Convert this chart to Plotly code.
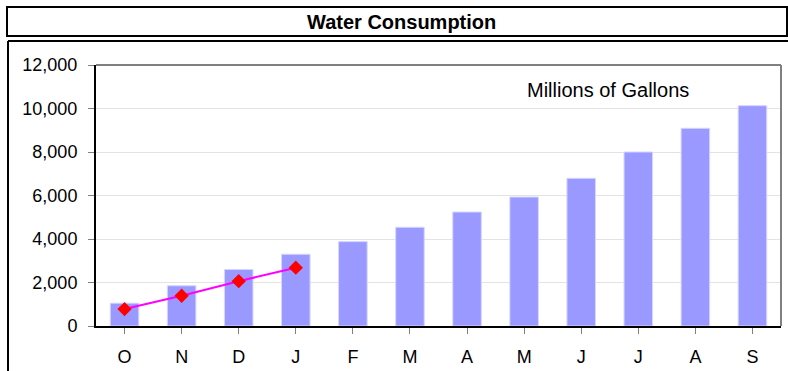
import plotly.graph_objects as go

months = ['O', 'N', 'D', 'J', 'F', 'M', 'A', 'M', 'J', 'J', 'A', 'S']
# projected consumption (bars) and actual to date (line)
projected = [1050, 1850, 2600, 3300, 3880, 4540, 5240, 5930, 6790, 8000, 9090, 10130]
actual = [780, 1390, 2060, 2680]

# months repeat letters, so use positions as x and put letters on the ticks
x_pos = list(range(len(months)))

FONT = 'Liberation Sans, Arial, sans-serif'

# plot area in pixels, used to place the frame and labels
L, R, T, B = 96, 781, 65, 326
W, H = R - L, B - T


def px(x):
    return (x - L) / W


def py(y):
    return (B - y) / H


fig = go.Figure()

fig.add_trace(go.Bar(
    x=x_pos,
    y=projected,
    marker=dict(color='#9999ff', line=dict(color='#d6d6ff', width=1)),
    width=0.5,
    showlegend=False,
))

fig.add_trace(go.Scatter(
    x=x_pos[:len(actual)],
    y=actual,
    mode='lines+markers',
    line=dict(color='#ff00ff', width=2),
    marker=dict(symbol='diamond', size=11, color='#ff0000'),
    showlegend=False,
))

fig.update_layout(
    width=788,
    height=371,
    margin=dict(l=L, r=788 - R, t=T, b=371 - B),
    paper_bgcolor='white',
    plot_bgcolor='white',
    font=dict(family=FONT, size=18, color='black'),
)

fig.update_xaxes(
    range=[-0.5, 11.5],
    tickmode='array',
    tickvals=x_pos,
    ticktext=months,
    tickson='boundaries',
    ticks='outside',
    ticklen=6,
    tickcolor='#808080',
    ticklabelstandoff=7,
    showline=True,
    linecolor='black',
    linewidth=2,
    showgrid=False,
    zeroline=False,
    automargin=False,
)

fig.update_yaxes(
    range=[0, 12000],
    tickvals=[0, 2000, 4000, 6000, 8000, 10000, 12000],
    tickformat=',',
    ticks='outside',
    ticklen=6,
    tickcolor='#808080',
    ticklabelstandoff=7,
    showline=True,
    linecolor='black',
    linewidth=2,
    showgrid=True,
    gridcolor='#e3e3e3',
    zeroline=False,
    automargin=False,
)

# gray top/right border of the plot area
fig.add_shape(type='line', xref='paper', yref='paper', x0=0, x1=1, y0=1, y1=1,
              line=dict(color='#808080', width=2))
fig.add_shape(type='line', xref='paper', yref='paper', x0=1, x1=1, y0=0, y1=1,
              line=dict(color='#808080', width=2))

# title box and outer frame
fig.add_shape(type='rect', xref='paper', yref='paper',
              x0=px(7), x1=px(787), y0=py(36), y1=py(7),
              line=dict(color='black', width=2))
fig.add_shape(type='line', xref='paper', yref='paper',
              x0=px(8), x1=px(790), y0=py(41), y1=py(41),
              line=dict(color='black', width=2))
fig.add_shape(type='line', xref='paper', yref='paper',
              x0=px(8), x1=px(8), y0=py(41), y1=py(380),
              line=dict(color='black', width=2))

fig.add_annotation(
    text='<b>Water Consumption</b>',
    xref='paper', yref='paper',
    x=px(401), y=py(22),
    xanchor='center', yanchor='middle',
    showarrow=False,
    font=dict(size=20),
)

fig.add_annotation(
    text='Millions of Gallons',
    xref='paper', yref='paper',
    x=px(608), y=py(90),
    xanchor='center', yanchor='middle',
    showarrow=False,
    font=dict(size=20),
)

# the page body has a default margin; drop it so the figure sits at 0,0
fig.write_html('out.html', config={'displayModeBar': False},
               post_script="document.body.style.margin='0';")
